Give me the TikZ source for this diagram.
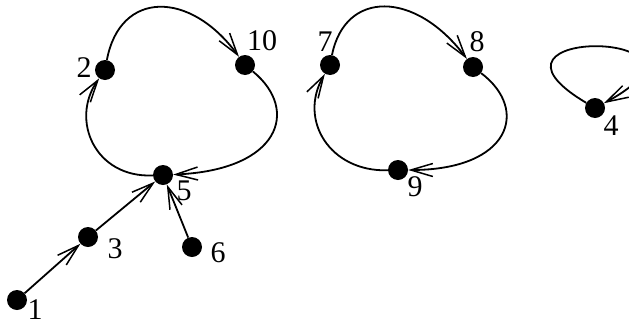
\documentclass[tikz,border=0pt]{standalone}
\usepackage{fontspec}
\setmainfont{Liberation Serif}
\usetikzlibrary{arrows.meta}
\begin{document}
\begin{tikzpicture}[x=1pt,y=-1pt,
  vtx/.style={circle,fill=black,minimum size=20pt,inner sep=0pt},
  lbl/.style={inner sep=0pt,font=\fontsize{30}{32}\selectfont},
  arr/.style={line width=1.8pt,-{Straight Barb[length=22pt,width=13pt,line width=1.5pt]}}]
\useasboundingbox (0,0) rectangle (629,327);
% vertices
\node[vtx] (n1) at (17,300) {};
\node[vtx] (n3) at (88,237) {};
\node[vtx] (n5) at (163,175) {};
\node[vtx] (n6) at (192,247) {};
\node[vtx] (n2) at (105,70) {};
\node[vtx] (n10) at (245,65) {};
\node[vtx] (n7) at (330,65) {};
\node[vtx] (n8) at (473,67) {};
\node[vtx] (n9) at (398,170) {};
\node[vtx] (n4) at (595,108) {};
% labels
\node[lbl] (l1) at (35,310) {1};
\node[lbl] (l3) at (115,249) {3};
\node[lbl] (l5) at (184,191) {5};
\node[lbl] (l6) at (218,253) {6};
\node[lbl] (l2) at (84,68) {2};
\node[lbl] (l10) at (262,41) {10};
\node[lbl] (l7) at (325,42) {7};
\node[lbl] (l8) at (477,42) {8};
\node[lbl] (l9) at (415,187) {9};
\node[lbl] (l4) at (611,126) {4};
% edges
\draw[arr] (n1) -- (n3);
\draw[arr] (n3) -- (n5);
\draw[arr] (n6) -- (n5);
\draw[arr] (n5) .. controls (95,178) and (70,120) .. (n2);
\draw[arr] (n2) .. controls (120,-10) and (190,-10) .. (n10);
\draw[arr] (n10) .. controls (300,110) and (280,170) .. (n5);
\draw[arr] (n9) .. controls (330,172) and (298,120) .. (n7);
\draw[arr] (n7) .. controls (345,-10) and (415,-10) .. (n8);
\draw[arr] (n8) .. controls (530,110) and (510,170) .. (n9);
\draw[arr] (n4) .. controls (455,25) and (740,30) .. (n4);
\end{tikzpicture}
\end{document}
